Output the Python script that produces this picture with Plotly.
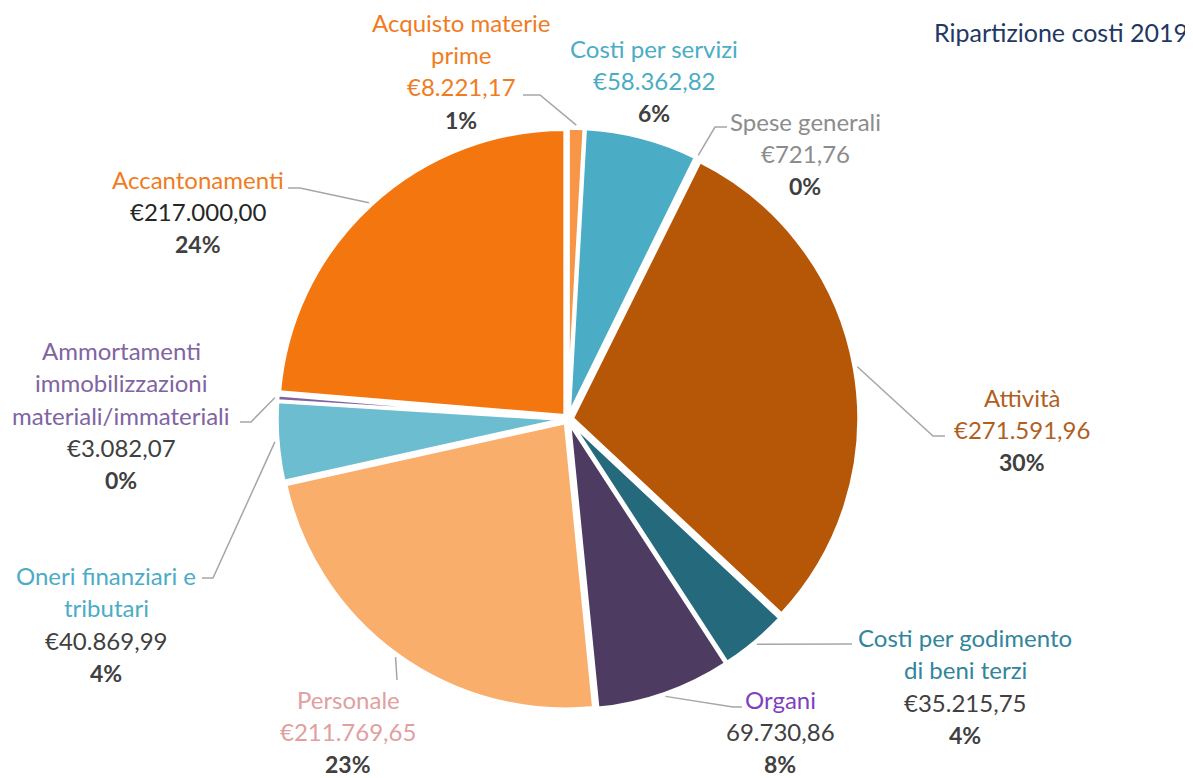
import math
import plotly.graph_objects as go

# page offset: the browser adds an 8px body margin around the figure
OFF = 8
W, H = 1193 - OFF, 778 - OFF

# ---------------- data ----------------
categories = [
    "Acquisto materie prime", "Costi per servizi", "Spese generali", "Attività",
    "Costi per godimento di beni terzi", "Organi", "Personale",
    "Oneri finanziari e tributari",
    "Ammortamenti immobilizzazioni materiali/immateriali", "Accantonamenti",
]
values = [8221.17, 58362.82, 721.76, 271591.96, 35215.75, 69730.86,
          211769.65, 40869.99, 3082.07, 217000.00]
value_labels = ["€8.221,17", "€58.362,82", "€721,76", "€271.591,96", "€35.215,75",
                "69.730,86", "€211.769,65", "€40.869,99", "€3.082,07", "€217.000,00"]
name_lines = [
    ["Acquisto materie", "prime"], ["Costi per servizi"], ["Spese generali"],
    ["Attività"], ["Costi per godimento", "di beni terzi"], ["Organi"],
    ["Personale"], ["Oneri finanziari e", "tributari"],
    ["Ammortamenti", "immobilizzazioni", "materiali/immateriali"], ["Accantonamenti"],
]
title_text = "Ripartizione costi 2019"

# ---------------- styles ----------------
slice_colors = ["#F79646", "#4BACC6", "#A5A5A5", "#B65708", "#256A7C",
                "#4E3B62", "#F9AE6C", "#6DBDD1", "#8064A2", "#F3760F"]
name_colors = ["#F07C22", "#4BACC6", "#8C8C8C", "#B0601E", "#31859C",
               "#7F3FBF", "#E0A0A0", "#4BACC6", "#8064A2", "#F07C22"]
value_colors = ["#F07C22", "#4BACC6", "#8C8C8C", "#B0601E", "#404040",
                "#404040", "#E0A0A0", "#404040", "#404040", "#262626"]
# label block placement (pixel center x, first line center y) in window pixels
label_pos = [(461, 22), (654, 48), (805, 121), (1022, 397), (965, 637),
             (780, 699), (348, 699), (106, 575), (121, 350), (198, 179)]
# leader line (elbow, end) in window pixels; None = no leader
leaders = [((540, 95), (523, 95)), None, ((715, 127), (727, 127)),
           ((933, 436), (945, 436)), ((852, 644), (852, 644)),
           ((733, 707), (742, 707)), ((397, 680), (397, 680)),
           ((213, 578), (202, 578)), ((251, 422), (240, 422)),
           ((300, 188), (288, 188))]

FONT = "Lato, 'Open Sans', sans-serif"
FS = 24
PITCH = 32.5
CX, CY, R = 568, 419, 291
PULL = 0.015


def px(x):
    return (x - OFF) / W


def py(y):
    return 1 - (y - OFF) / H


fig = go.Figure()
fig.add_trace(go.Pie(
    labels=categories, values=values, sort=False, direction="clockwise",
    rotation=0, textinfo="none", hoverinfo="label+value+percent",
    marker=dict(colors=slice_colors, line=dict(color="white", width=3.5)),
    pull=[PULL] * len(values), showlegend=False,
    domain=dict(x=[px(CX - R), px(CX + R)], y=[py(CY + R), py(CY - R)]),
))

total = sum(values)
annotations = []
shapes = []
cum = 0.0
for i, v in enumerate(values):
    mid = 2 * math.pi * (cum + v / 2) / total
    cum += v
    pct = f"{round(v / total * 100)}%"
    lines = [(t, name_colors[i], False) for t in name_lines[i]]
    lines.append((value_labels[i], value_colors[i], False))
    lines.append((pct, "#404040", True))
    lx, ly = label_pos[i]
    for k, (t, c, b) in enumerate(lines):
        annotations.append(dict(
            x=px(lx), y=py(ly + k * PITCH), xref="paper", yref="paper",
            text=f"<b>{t}</b>" if b else t, showarrow=False,
            xanchor="center", yanchor="middle", borderpad=0,
            font=dict(family=FONT, size=FS - 1 if b else FS, color=c),
        ))
    if leaders[i] is not None:
        ex = CX + (R + 3) * math.sin(mid)
        ey = CY - (R + 3) * math.cos(mid)
        (bx, by), (tx, ty) = leaders[i]
        path = f"M {px(ex)} {py(ey)} L {px(bx)} {py(by)} L {px(tx)} {py(ty)}"
        shapes.append(dict(type="path", path=path, xref="paper", yref="paper",
                           line=dict(color="#A6A6A6", width=1.5)))

annotations.append(dict(
    x=px(1189), y=py(32), xref="paper", yref="paper", text=title_text,
    showarrow=False, xanchor="right", yanchor="middle", borderpad=0,
    font=dict(family=FONT, size=25, color="#1F3864"),
))

fig.update_layout(
    width=W, height=H, margin=dict(l=0, r=0, t=0, b=0),
    paper_bgcolor="white", plot_bgcolor="white",
    annotations=annotations, shapes=shapes,
)
fig.write_html("out.html")
